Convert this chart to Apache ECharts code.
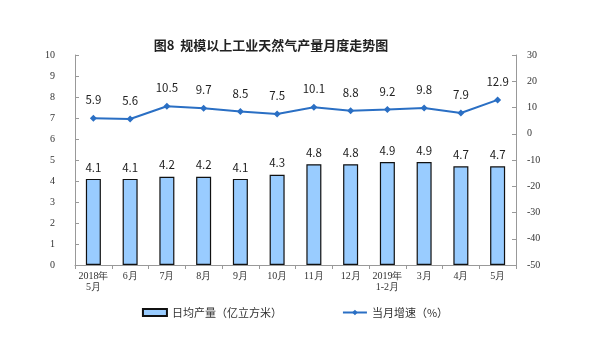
<!DOCTYPE html>
<html>
<head>
<meta charset="utf-8">
<script src="https://cdn.jsdelivr.net/npm/echarts@6/dist/echarts.min.js"></script>
<style>
html,body{margin:0;padding:0;background:#fff;}
#c{width:590px;height:337px;}
</style>
</head>
<body>
<div id="c"></div>
<script>
// Monthly categories
var months = ['2018年\n5月','6月','7月','8月','9月','10月','11月','12月','2019年\n1-2月','3月','4月','5月'];
// Daily output (100 million m³)
var dailyOutput = [4.1,4.1,4.2,4.2,4.1,4.3,4.8,4.8,4.9,4.9,4.7,4.7];
// Year-on-year growth of the month (%)
var monthlyGrowth = [5.9,5.6,10.5,9.7,8.5,7.5,10.1,8.8,9.2,9.8,7.9,12.9];

var chart = echarts.init(document.getElementById('c'));
var serif = '"Liberation Serif","Times New Roman",serif';
var sans = '"Noto Sans CJK SC","Liberation Sans",sans-serif';

chart.setOption({
  animation: false,
  title: {
    text: '图8  规模以上工业天然气产量月度走势图',
    left: 266, top: 34, textAlign: 'center',
    textStyle: {fontFamily: sans, fontSize: 13, fontWeight: 'bold', color: '#222'}
  },
  legend: {
    bottom: 14, left: 'center', itemGap: 60, itemWidth: 24, itemHeight: 7,
    textStyle: {fontFamily: sans, fontSize: 11, color: '#333'},
    data: [
      {name: '日均产量（亿立方米）', icon: 'rect'},
      {name: '当月增速（%）'}
    ]
  },
  grid: {left: 75, right: 74, top: 55, bottom: 72},
  xAxis: {
    type: 'category', data: months,
    axisLine: {lineStyle: {color: '#999'}},
    axisTick: {show: true, interval: 0, length: 4, lineStyle: {color: '#999'}},
    axisLabel: {interval: 0, fontFamily: serif, fontSize: 10, color: '#333', lineHeight: 11, margin: 6}
  },
  yAxis: [
    {
      type: 'value', min: 0, max: 10, interval: 1,
      splitLine: {show: false},
      axisLine: {show: true, lineStyle: {color: '#999'}},
      axisTick: {show: true, inside: true, length: 4, lineStyle: {color: '#999'}},
      axisLabel: {fontFamily: serif, fontSize: 10, color: '#333', margin: 20}
    },
    {
      type: 'value', min: -50, max: 30, interval: 10,
      splitLine: {show: false},
      axisLine: {show: true, lineStyle: {color: '#999'}},
      axisTick: {show: true, inside: true, length: 4, lineStyle: {color: '#999'}},
      axisLabel: {fontFamily: serif, fontSize: 10, color: '#333', margin: 11}
    }
  ],
  series: [
    {
      name: '日均产量（亿立方米）', type: 'bar', yAxisIndex: 0,
      data: dailyOutput, barWidth: 15,
      itemStyle: {color: '#99ccff', borderColor: '#111', borderWidth: 1.2},
      label: {show: true, position: 'top', distance: 6, fontFamily: sans, fontSize: 11.5, color: '#222'}
    },
    {
      name: '当月增速（%）', type: 'line', yAxisIndex: 1,
      data: monthlyGrowth,
      symbol: 'diamond', symbolSize: 7,
      lineStyle: {color: '#2a6fc4', width: 2},
      itemStyle: {color: '#2a6fc4'},
      label: {show: true, position: 'top', distance: 9, fontFamily: sans, fontSize: 11.5, color: '#222'}
    }
  ]
});
</script>
</body>
</html>
